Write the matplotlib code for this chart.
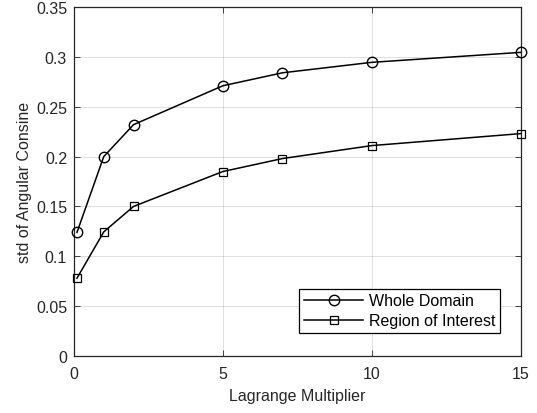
import matplotlib
matplotlib.use("Agg")
import matplotlib.pyplot as plt

# Values
lagrange = [0.1, 1, 2, 5, 7, 10, 15]
whole_domain = [0.124, 0.200, 0.232, 0.271, 0.284, 0.2945, 0.3045]
region_of_interest = [0.078, 0.1245, 0.150, 0.185, 0.198, 0.211, 0.223]

x_ticks = [0, 5, 10, 15]
y_ticks = [0, 0.05, 0.1, 0.15, 0.2, 0.25, 0.3, 0.35]
y_tick_labels = ["0", "0.05", "0.1", "0.15", "0.2", "0.25", "0.3", "0.35"]

plt.rcParams["font.family"] = ["Liberation Sans", "DejaVu Sans"]

fig = plt.figure(figsize=(5.37, 4.14), dpi=100)
ax = fig.add_axes([74 / 537, 1 - 357 / 414, 446.5 / 537, 349 / 414])

ax.plot(lagrange, whole_domain, "k-", marker="o", markersize=7.5,
        markerfacecolor="none", markeredgewidth=1.0, linewidth=1.1,
        label="Whole Domain", clip_on=False, zorder=4)
ax.plot(lagrange, region_of_interest, "k-", marker="s", markersize=5.5,
        markerfacecolor="none", markeredgewidth=0.9, linewidth=1.1,
        label="Region of Interest", clip_on=False, zorder=4)

ax.set_xlim(0, 15)
ax.set_ylim(0, 0.35)
ax.set_xticks(x_ticks)
ax.set_yticks(y_ticks)
ax.set_yticklabels(y_tick_labels)

ax.tick_params(direction="in", top=True, right=True, length=4,
               width=0.6, labelsize=11.5, colors="#262626")
ax.tick_params(axis="x", pad=7.5)
ax.tick_params(axis="y", pad=5)
for spine in ax.spines.values():
    spine.set_linewidth(0.9)
    spine.set_color("#262626")

ax.grid(True, color="#262626", alpha=0.15, linewidth=0.7)
ax.set_axisbelow(True)

ax.set_xlabel("Lagrange Multiplier", fontsize=11.5, color="#262626", labelpad=5)
ax.set_ylabel("std of Angular Consine", fontsize=11.5, color="#262626", labelpad=3)

leg = ax.legend(loc="lower right", bbox_to_anchor=(0.954, 0.066),
                fontsize=11.5, fancybox=False, edgecolor="black",
                framealpha=1, handlelength=3.7, borderpad=0.3,
                labelspacing=0.3, handletextpad=0.35, borderaxespad=0)
leg.get_frame().set_linewidth(0.9)

fig.savefig("out.png", dpi=100)
plt.close(fig)
